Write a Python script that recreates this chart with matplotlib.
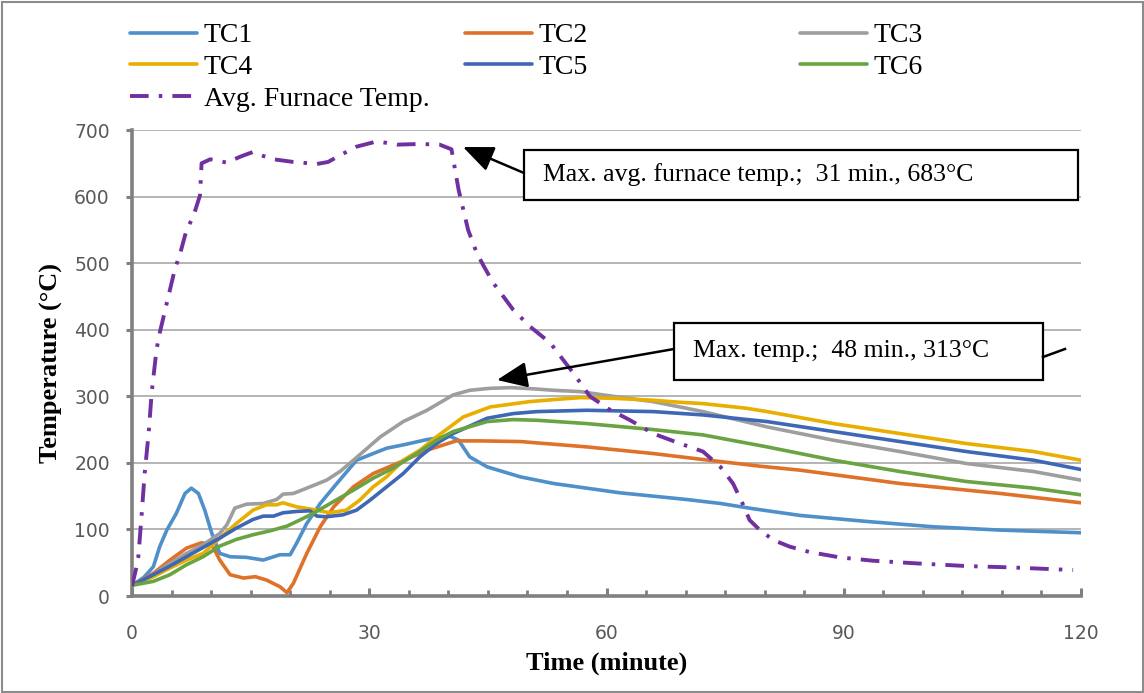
import matplotlib
matplotlib.use("Agg")
import matplotlib.pyplot as plt
from matplotlib.lines import Line2D
from matplotlib.patches import Rectangle
from matplotlib.ticker import MultipleLocator

# ---------------- data ----------------
furnace_t = [0, 0.5, 0.8, 1.2, 1.6, 2.1, 2.5, 3.1, 3.5, 4.2, 4.8, 5.4, 6.1, 6.9, 7.75,
             8.6, 8.8, 9.9, 12, 13.7, 15.3, 16.6, 17.9, 20.4, 23.4, 24.8, 26.3, 28.4,
             31, 33.5, 36.4, 38.9, 40.4, 41.3, 42.5, 43.6, 44.5, 45.7, 48.2, 50.3,
             52.9, 54.5, 55.8, 57.9, 60.4, 63, 65.9, 69.3, 72.2, 74.4, 76, 77.2, 78.1,
             79.4, 81.1, 83.2, 85.7, 89.5, 93.7, 99.2, 105.5, 111, 115, 119]
furnace_T = [15, 40, 59, 119, 184, 244, 307, 370, 395, 430, 460, 490, 515, 550, 570,
             602, 650, 656, 651, 660, 667, 661, 656, 652, 649, 652, 662, 675,
             683, 678, 679, 678, 671, 610, 550, 515, 495, 470, 430, 405,
             380, 355, 335, 300, 280, 264, 244, 229, 217, 194, 169, 139, 114,
             99, 84, 74, 66, 58, 53, 49, 45, 43, 41, 39]

tc1_t = [0, 1.5, 2.7, 3.5, 4.4, 5.6, 6.7, 7.5, 8.4, 9.2, 10.1, 11.1, 12.4, 14.5, 16.6,
         18.7, 20, 20.8, 22.1, 23.8, 25.9, 28.4, 30.5, 32.2, 34.3, 37.3, 40.2, 41.3,
         42.7, 44.9, 49.1, 53.3, 57.5, 61.7, 65.9, 70.1, 74.4, 78.6, 84.5, 92.9,
         101.3, 109.8, 120]
tc1_T = [16, 28, 44, 74, 99, 124, 154, 162, 154, 129, 94, 64, 59, 58, 54,
         62, 62, 79, 109, 139, 169, 204, 214, 222, 227, 235, 240, 234,
         209, 194, 179, 169, 162, 155, 150, 145, 139, 131, 121, 112,
         104, 99, 95]

tc2_t = [0, 2.7, 4.8, 6.9, 8.8, 10.1, 11.1, 12.4, 14.1, 15.6, 17, 18.7, 19.6, 20.4,
         22.1, 23.8, 25.5, 28, 30.5, 33.5, 37.3, 41, 44, 49.1, 57.5, 65.9, 72.2,
         79.4, 84.5, 97.1, 109.8, 120]
tc2_T = [16, 34, 54, 72, 80, 77, 54, 32, 27, 29, 24, 14, 5, 19,
         64, 104, 134, 164, 184, 199, 219, 233, 233, 232, 224, 214, 205,
         195, 189, 169, 154, 140]

tc3_t = [0, 2.7, 4.8, 6.9, 9, 11.1, 12, 13, 14.5, 16.6, 18.3, 19.1, 20.4, 22.1, 24.6,
         26.3, 28, 31.4, 34.3, 37.3, 40.6, 42.7, 45.3, 48, 51, 53.3, 56.7, 59.6,
         65.9, 72.2, 80.3, 88.7, 97.1, 105.5, 114, 120]
tc3_T = [16, 32, 49, 64, 77, 94, 107, 132, 138, 139, 145, 153, 154, 162, 174,
         187, 204, 239, 262, 279, 302, 309, 312, 313, 311, 309, 307, 302,
         292, 277, 254, 234, 217, 199, 187, 174]

tc4_t = [0, 2.7, 4.8, 6.9, 9, 11.1, 13.2, 15.3, 17, 18.3, 19.1, 20.8, 22.9, 25, 27.1,
         28.8, 30.5, 32.2, 34.3, 36.4, 38.5, 41.9, 45.3, 50.3, 53.3, 56.7, 60.9,
         65.9, 69.3, 72.2, 77.7, 80.3, 88.7, 97.1, 105.5, 114, 120]
tc4_T = [16, 29, 42, 54, 64, 87, 109, 129, 137, 137, 140, 134, 130, 125, 129,
         144, 164, 179, 204, 219, 239, 269, 284, 292, 295, 298, 297,
         294, 291, 289, 282, 277, 259, 244, 229, 217, 204]

tc5_t = [0, 2.7, 4.8, 6.9, 9, 11.1, 13.2, 15.3, 16.6, 17.9, 19.1, 20.8, 22.5, 23.4,
         24.6, 26.7, 28.4, 30.1, 32.2, 34.3, 36.4, 38.5, 40.6, 44.9, 48.2, 51.2,
         57.5, 65.9, 72.2, 80.3, 88.7, 97.1, 105.5, 114, 120]
tc5_T = [16, 32, 45, 59, 73, 87, 102, 115, 120, 120, 125, 127, 128, 120,
         119, 122, 129, 144, 164, 184, 209, 229, 244, 267, 274, 277,
         279, 277, 272, 262, 247, 232, 217, 204, 190]

tc6_t = [0, 2.7, 4.8, 6.9, 9, 11.1, 13.2, 15.3, 17.5, 19.6, 21.2, 22.9, 25.5, 28,
         30.5, 33, 36.4, 38.5, 40.6, 44.9, 48.2, 51.2, 57.5, 65.9, 72.2, 80.3,
         88.7, 97.1, 105.5, 114, 120]
tc6_T = [16, 22, 32, 47, 59, 75, 85, 92, 98, 105, 114, 124, 142, 159,
         177, 192, 217, 234, 247, 262, 265, 264, 259, 250, 242, 224,
         204, 187, 172, 162, 152]

series_names = ["TC1", "TC2", "TC3", "TC4", "TC5", "TC6"]
series_colors = ["#4F8FCA", "#E07129", "#9E9E9E", "#E8AE00", "#3E67B5", "#69A342"]
series_data = [(tc1_t, tc1_T), (tc2_t, tc2_T), (tc3_t, tc3_T),
               (tc4_t, tc4_T), (tc5_t, tc5_T), (tc6_t, tc6_T)]
furnace_name = "Avg. Furnace Temp."
furnace_color = "#7030A0"

x_ticks = [0, 30, 60, 90, 120]
y_ticks = [0, 100, 200, 300, 400, 500, 600, 700]

# ---------------- figure ----------------
W, H = 1144, 693
fig = plt.figure(figsize=(W / 100, H / 100), dpi=100)
ax = fig.add_axes([132 / W, 1 - 596 / H, (1081 - 132) / W, (596 - 130) / H])

serif = ["Liberation Serif", "DejaVu Serif"]
tick_font = ["DejaVu Sans"]
grey = "#808080"

handles = {}
for name, color, (t, T) in zip(series_names, series_colors, series_data):
    (ln,) = ax.plot(t, T, color=color, lw=2.6, solid_capstyle="round",
                    solid_joinstyle="round", zorder=3)
    handles[name] = ln

furn_dash = (4.8, 2.6, 0.9, 2.6)
(fl,) = ax.plot(furnace_t, furnace_T, color=furnace_color, lw=2.8,
                dashes=furn_dash, dash_capstyle="butt", zorder=4)
handles[furnace_name] = fl

ax.set_xlim(0, 120)
ax.set_ylim(0, 700)
ax.set_xticks(x_ticks)
ax.set_yticks(y_ticks)
ax.xaxis.set_minor_locator(MultipleLocator(5))
ax.grid(axis="y", color="#A0A0A0", lw=1.1, zorder=0)
ax.set_axisbelow(True)

for side in ("top", "right"):
    ax.spines[side].set_visible(False)
for side in ("left", "bottom"):
    ax.spines[side].set_color(grey)
    ax.spines[side].set_linewidth(2.6)

ax.tick_params(axis="y", direction="out", length=4, width=2.2, color=grey,
               pad=12, labelsize=13.5, labelcolor="#595959")
ax.tick_params(axis="x", which="major", direction="in", length=6, width=2.2,
               color=grey, pad=20, labelsize=13.5, labelcolor="#595959")
ax.tick_params(axis="x", which="minor", direction="in", length=4, width=2.0,
               color=grey)
for lab in ax.get_xticklabels() + ax.get_yticklabels():
    lab.set_family(tick_font)

ax.set_xlabel("Time (minute)", family=serif, fontsize=19, fontweight="bold",
              labelpad=6)
ax.set_ylabel("Temperature (°C)", family=serif, fontsize=19, fontweight="bold",
              labelpad=8)

# ---------------- legend (three columns) ----------------
legend_cols = [
    (["TC1", "TC4", furnace_name], 130),
    (["TC2", "TC5"], 465),
    (["TC3", "TC6"], 800),
]
for names, xpix in legend_cols:
    fig.legend([handles[n] for n in names], names,
               loc="upper left", bbox_to_anchor=(xpix / W, 1 - 23 / H),
               frameon=False, borderpad=0, borderaxespad=0,
               handlelength=2.4, handletextpad=0.25, labelspacing=0.22,
               prop={"family": serif, "size": 20})

# ---------------- annotations ----------------
def px_to_data(px, py):
    return ((px - 132) / (1081 - 132) * 120, (596 - py) / (596 - 130) * 700)

def boxed_note(text, left, top, right, bottom, text_x, tail, tip):
    x0, y0 = px_to_data(left, bottom)
    x1, y1 = px_to_data(right, top)
    ax.add_patch(Rectangle((x0, y0), x1 - x0, y1 - y0, facecolor="white",
                           edgecolor="black", lw=1.6, zorder=6, clip_on=False))
    tx, ty = px_to_data(text_x, (top + bottom) / 2)
    ax.text(tx, ty, text, family=serif, fontsize=18.5, va="center", ha="left",
            zorder=7)
    ax.annotate("", xy=px_to_data(*tip), xytext=px_to_data(*tail),
                arrowprops=dict(arrowstyle="-|>,head_length=0.85,head_width=0.36",
                                color="black", lw=1.8, mutation_scale=22,
                                shrinkA=0, shrinkB=0),
                zorder=6, annotation_clip=False)

boxed_note("Max. avg. furnace temp.;  31 min., 683°C",
           524, 150, 1078, 200, 543, (524, 173), (463, 147))
boxed_note("Max. temp.;  48 min., 313°C",
           674, 323, 1043, 380, 693, (674, 349), (497, 380))
# short connector stub on the right of the second box
sx0, sy0 = px_to_data(1043, 357)
sx1, sy1 = px_to_data(1065, 349)
ax.add_line(Line2D([sx0, sx1], [sy0, sy1], color="black", lw=1.8, zorder=6,
                   clip_on=False))

# outer frame of the chart area
fig.add_artist(Rectangle((1.5 / W, 1.5 / H), 1 - 3 / W, 1 - 3 / H,
                         transform=fig.transFigure, facecolor="none",
                         edgecolor="#8C8C8C", lw=1.5))

fig.savefig("out.png", dpi=100)
